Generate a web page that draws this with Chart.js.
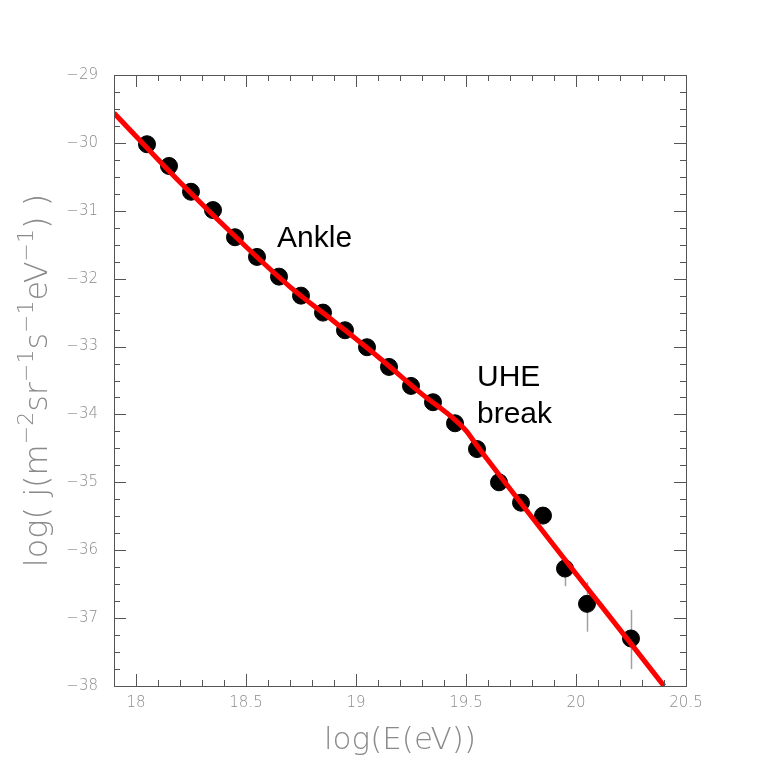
<!DOCTYPE html>
<html>
<head>
<meta charset="utf-8">
<script src="https://cdn.jsdelivr.net/npm/chart.js@4/dist/chart.umd.min.js"></script>
<style>
html,body{margin:0;padding:0;background:#fff;}
#wrap{width:763px;height:763px;}
</style>
</head>
<body>
<div id="wrap"><canvas id="c" width="763" height="763"></canvas></div>
<script>
// ---- data ----
const energy = [18.05,18.15,18.25,18.35,18.45,18.55,18.65,18.75,18.85,18.95,19.05,19.15,19.25,19.35,19.45,19.55,19.65,19.75,19.85,19.95,20.05,20.25];
const flux   = [-30.02,-30.34,-30.72,-30.99,-31.39,-31.68,-31.97,-32.25,-32.50,-32.76,-33.01,-33.30,-33.58,-33.82,-34.13,-34.51,-35.00,-35.30,-35.49,-36.27,-36.79,-37.30];
const errHigh = [null,null,null,null,null,null,null,null,null,null,null,null,null,null,null,null,null,null,null,-36.12,-36.47,-36.88];
const errLow  = [null,null,null,null,null,null,null,null,null,null,null,null,null,null,null,null,null,null,null,-36.53,-37.20,-37.75];
const fitX = [17.9,18.2,18.5,18.7,18.9,19.1,19.3,19.45,19.5,19.55,20.4];
const fitY = [-29.56,-30.58,-31.53,-32.12,-32.63,-33.15,-33.70,-34.08,-34.24,-34.46,-38.0];
const xTickValues = [18,18.5,19,19.5,20,20.5];
const yTickValues = [-38,-37,-36,-35,-34,-33,-32,-31,-30,-29];
const xTitle = 'log(E(eV))';
const yTitleParts = [['log( j(m',0],['−2',1],['sr',0],['−1',1],['s',0],['−1',1],['eV',0],['−1',1],[') )',0]];
const annotations = [
  {text:'Ankle', x:18.641, y:-31.53},
  {text:'UHE',   x:19.55, y:-33.58},
  {text:'break', x:19.55, y:-34.125}
];

const GRAY = '#8a8a8a';
const FRAME = '#555555';
const THIN = "'DejaVu Sans', sans-serif";

const framePlugin = {
  id:'frame',
  beforeDatasetsDraw(chart){
    const ctx = chart.ctx, xs = chart.scales.x, ys = chart.scales.y;
    ctx.save();
    ctx.strokeStyle = '#a0a0a0';
    ctx.lineWidth = 1.5;
    for (let i=0;i<energy.length;i++){
      if (errHigh[i]===null) continue;
      const px = Math.round(xs.getPixelForValue(energy[i]))+0.5;
      ctx.beginPath();
      ctx.moveTo(px, ys.getPixelForValue(errHigh[i]));
      ctx.lineTo(px, ys.getPixelForValue(errLow[i]));
      ctx.stroke();
    }
    ctx.restore();
  },
  afterDraw(chart){
    const ctx = chart.ctx, a = chart.chartArea, xs = chart.scales.x, ys = chart.scales.y;
    ctx.save();
    ctx.strokeStyle = FRAME;
    ctx.lineWidth = 1;
    ctx.strokeRect(Math.round(a.left)+0.5, Math.round(a.top)+0.5, Math.round(a.right-a.left), Math.round(a.bottom-a.top));
    ctx.beginPath();
    for (let k=179;k<=205;k++){
      const v = k/10;
      const px = Math.round(xs.getPixelForValue(v))+0.5;
      const len = (k%5===0) ? 12 : 6;
      ctx.moveTo(px, a.bottom); ctx.lineTo(px, a.bottom-len);
      ctx.moveTo(px, a.top); ctx.lineTo(px, a.top+len);
    }
    for (let k=-152;k<=-116;k++){
      const v = k/4;
      const py = Math.round(ys.getPixelForValue(v))+0.5;
      const len = (k%4===0) ? 12 : 6;
      ctx.moveTo(a.left, py); ctx.lineTo(a.left+len, py);
      ctx.moveTo(a.right, py); ctx.lineTo(a.right-len, py);
    }
    ctx.stroke();

    // annotations
    ctx.fillStyle = '#000';
    ctx.font = "30px 'Liberation Sans', Arial, sans-serif";
    ctx.textBaseline = 'alphabetic';
    ctx.textAlign = 'left';
    annotations.forEach(t=>{
      ctx.fillText(t.text, xs.getPixelForValue(t.x), ys.getPixelForValue(t.y));
    });

    // x title
    ctx.fillStyle = GRAY;
    ctx.font = "200 31px " + THIN;
    ctx.textAlign = 'center';
    ctx.textBaseline = 'middle';
    ctx.fillText(xTitle, (a.left+a.right)/2, 741);

    // y title with superscripts
    const big = "200 32px " + THIN, small = "200 22px " + THIN;
    let total = 0;
    yTitleParts.forEach(p=>{ ctx.font = p[1]?small:big; total += ctx.measureText(p[0]).width; });
    ctx.translate(47, (a.top+a.bottom)/2);
    ctx.rotate(-Math.PI/2);
    ctx.textAlign = 'left';
    ctx.textBaseline = 'alphabetic';
    let cx = -total/2;
    yTitleParts.forEach(p=>{
      ctx.font = p[1]?small:big;
      ctx.fillText(p[0], cx, p[1] ? -14 : 0);
      cx += ctx.measureText(p[0]).width;
    });
    ctx.restore();
  }
};

new Chart(document.getElementById('c'), {
  type:'scatter',
  data:{
    datasets:[
      {
        type:'line',
        data: fitX.map((x,i)=>({x:x, y:fitY[i]})),
        borderColor:'#ff0000',
        borderWidth:5,
        pointRadius:0,
        cubicInterpolationMode:'monotone',
        fill:false,
        order:0
      },
      {
        data: energy.map((x,i)=>({x:x, y:flux[i]})),
        backgroundColor:'#000',
        borderColor:'#000',
        pointRadius:8.5,
        pointHoverRadius:8.5,
        order:1
      }
    ]
  },
  options:{
    responsive:false,
    animation:false,
    devicePixelRatio:1,
    layout:{padding:{top:75,right:77,left:0,bottom:0}},
    plugins:{legend:{display:false},tooltip:{enabled:false}},
    scales:{
      x:{
        type:'linear', min:17.9, max:20.5,
        afterBuildTicks(s){ s.ticks = xTickValues.map(v=>({value:v})); },
        afterFit(s){ s.height = 77; },
        grid:{display:false, drawTicks:false},
        border:{display:false},
        ticks:{
          autoSkip:false, maxRotation:0, padding:8,
          color:GRAY, font:{family:THIN, size:15, weight:'200'},
          callback:(v)=>String(v)
        }
      },
      y:{
        type:'linear', min:-38, max:-29,
        afterBuildTicks(s){ s.ticks = yTickValues.map(v=>({value:v})); },
        afterFit(s){ s.width = 114; },
        grid:{display:false, drawTicks:false},
        border:{display:false},
        ticks:{
          autoSkip:false, padding:16,
          color:GRAY, font:{family:THIN, size:15, weight:'200'},
          callback:(v)=>'−'+Math.abs(v)
        }
      }
    }
  },
  plugins:[framePlugin]
});
</script>
</body>
</html>
